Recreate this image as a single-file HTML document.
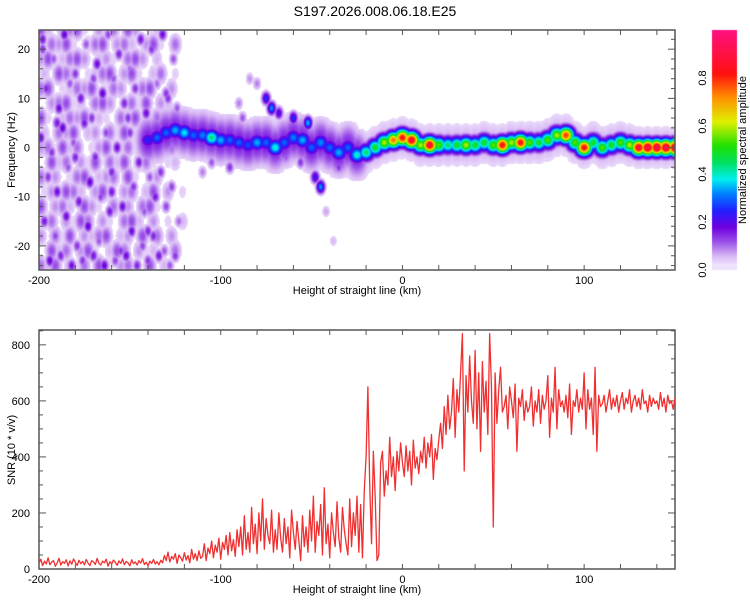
<!DOCTYPE html>
<html><head><meta charset="utf-8">
<style>
html,body{margin:0;padding:0;background:#fff;}
body{width:750px;height:600px;position:relative;overflow:hidden;font-family:"Liberation Sans",sans-serif;}
canvas{position:absolute;left:0;top:0;}
svg{position:absolute;left:0;top:0;}
</style></head>
<body>
<canvas id="spec" width="750" height="600"></canvas>
<svg id="svg" width="750" height="600"></svg>
<script>
// ---------- data ----------
const ridgeKm   = [-140,-135,-130,-125,-120,-115,-110,-105,-100,-95,-90,-85,-80,-75,-70,-65,-60,-55,-50,-45,-40,-35,-30,-25,-20,-15,-10,-5,0,5,10,15,20,25,30,35,40,45,50,55,60,65,70,75,80,85,90,95,100,105,110,115,120,125,130,135,140,145,150];
const ridgeHz   = [1.5,2,3,3.5,3,2.5,2.5,2,1.5,1.5,1,0.5,1,1,0,1,2,1.5,0,1,0,-1,0,-1.5,-1,0,1,1.5,2,1.5,0.5,0.5,0.5,0.5,0.5,0.5,0.5,1,0.5,0.5,1,1,1,1,1.5,2.5,2.5,1,0,1,0,0.5,1,0.5,0,0,0,0,0];
const ridgeAmp  = [0.25,0.3,0.3,0.35,0.38,0.3,0.32,0.45,0.35,0.3,0.3,0.28,0.35,0.3,0.4,0.3,0.32,0.35,0.3,0.33,0.3,0.35,0.3,0.4,0.45,0.5,0.6,0.75,0.85,0.9,0.6,0.9,0.55,0.45,0.5,0.6,0.5,0.5,0.55,0.85,0.6,0.85,0.55,0.5,0.55,0.6,0.8,0.55,0.85,0.5,0.55,0.5,0.55,0.6,0.9,0.95,0.95,0.95,0.95];
const blobKm  = [-75,-72,-68,-60,-52,-48,-45,-42,-38,-80,-84,-88,-56,-64,-95,-90,-105,-110,-60,-35,
 -198,-192,-186,-180,-174,-168,-162,-156,-150,-144,-138,-132,-126,
 -196,-189,-183,-177,-171,-165,-159,-153,-147,-141,-135,-129,-124,
 -199,-193,-187,-181,-175,-169,-163,-157,-151,-145,-139,-133,-127,
 -195,-190,-184,-178,-172,-166,-160,-154,-148,-142,-136,-130,-123,
 -197,-191,-185,-179,-173,-167,-161,-155,-149,-143,-137,-131,-125,
 -194,-188,-182,-176,-170,-164,-158,-152,-146,-140,-134,-128,
 -198,-190,-180,-170,-160,-150,-140,-130];
const blobHz  = [10,8,7,6,5,-6,-8,-13,-19,13,14,6,-3,-2,-4,9,-3,-5,3,-4,
 22,18,23,15,21,17,23,19,16,22,20,23,18,
 12,8,13,10,6,11,14,9,12,7,13,10,8,
 2,-1,4,1,5,-2,3,0,6,-3,-6,-5,-8,
 -6,-9,-4,-11,-7,-10,-5,-12,-8,-13,-10,-12,-15,
 -15,-18,-14,-20,-16,-19,-13,-21,-17,-20,-18,-21,-22,
 -23,-22,-24,-23,-22,-24,-23,-22,-24,-23,-22,-24,
 20,5,-2,14,-9,3,-17,11];
const blobAmp = [0.22,0.28,0.18,0.22,0.3,0.2,0.28,0.06,0.05,0.08,0.07,0.1,0.12,0.1,0.12,0.08,0.1,0.08,0.15,0.12,
 0.14,0.1,0.16,0.12,0.1,0.15,0.11,0.13,0.09,0.14,0.12,0.15,0.1,
 0.13,0.15,0.1,0.14,0.12,0.16,0.1,0.13,0.12,0.15,0.09,0.12,0.1,
 0.15,0.12,0.16,0.1,0.14,0.13,0.11,0.15,0.12,0.14,0.1,0.12,0.11,
 0.12,0.15,0.1,0.14,0.16,0.11,0.13,0.15,0.12,0.1,0.14,0.11,0.09,
 0.14,0.11,0.15,0.12,0.16,0.1,0.14,0.12,0.15,0.11,0.13,0.1,0.12,
 0.16,0.13,0.15,0.12,0.14,0.16,0.11,0.15,0.13,0.12,0.14,0.1,
 0.12,0.14,0.13,0.11,0.14,0.12,0.13,0.12];
// light noise field: rows every 3 Hz from -24, columns every 4 km from -200 (digit = amplitude level)
const noiseRows = [
 "53604250630452061300",
 "06350462036504230150",
 "40526043560340625040",
 "35042650420563041203",
 "60453064205340562010",
 "24065304620450360402",
 "53402560345062034100",
 "06350426053604520230",
 "45063502460352064050",
 "30546034052630450201",
 "62035460320546035010",
 "04562305640352604300",
 "56023546025403560140",
 "30654023560462035020",
 "46035640342056403100",
 "05462035604530462050",
 "63045620435064023010"];
const snrStartKm = -200;
const snrValues = [20,35,12,28,18,40,15,25,30,10,22,38,14,26,20,33,11,29,17,36,24,13,31,19,27,15,34,21,12,30,25,16,38,20,14,28,22,35,10,26,18,32,24,13,29,20,36,15,27,22,11,33,19,25,14,30,21,37,16,24,12,28,20,34,18,26,15,31,22,48,
30,60,25,45,35,55,20,50,40,28,58,32,48,22,70,35,55,30,65,38,
45,90,30,75,55,100,40,85,60,110,35,95,70,120,50,130,65,105,45,140,
80,150,50,190,70,130,60,220,90,160,55,200,100,250,70,180,120,90,210,60,
140,70,200,110,60,180,90,150,40,210,130,70,170,100,30,190,80,150,60,210,
100,260,60,170,120,230,50,290,90,160,40,200,130,80,240,110,60,220,140,90,
50,250,80,200,120,260,60,230,40,280,
400,650,300,90,420,260,30,50,380,420,
260,350,300,470,330,400,280,420,350,450,
380,330,440,350,420,300,460,360,400,340,
420,380,470,360,450,400,480,320,430,390,
460,520,430,580,480,620,500,560,680,470,
640,560,700,840,350,690,560,760,600,520,
780,500,700,420,740,560,670,480,840,650,
150,700,520,640,720,560,580,620,500,650,
600,540,660,420,610,580,640,530,600,560,
580,650,510,600,560,640,520,620,570,600,
690,470,610,560,720,500,640,580,600,560,
620,540,660,480,600,580,640,560,610,570,
700,500,640,570,610,480,720,420,620,580,
590,620,560,600,640,570,610,580,620,560,
600,630,570,610,590,640,560,600,620,580,
610,570,640,590,600,560,620,580,610,590,
600,570,630,580,610,560,620,590,600,570,610];
const xTicks = [-200,-100,0,100];
const fTicks = [-20,-10,0,10,20];
const snrTicks = [0,200,400,600,800];
const cbTicks = [0.0,0.2,0.4,0.6,0.8];

// ---------- layout ----------
const X0=39, X1=675, KM0=-200, KM1=150;
const T0=30, T1=270, HZ0=-24.9, HZ1=23.9;
const B0=330, B1=569, S0=0, S1=853;
const xs = k => X0 + (k-KM0)/(KM1-KM0)*(X1-X0);
const kx = x => KM0 + (x-X0)/(X1-X0)*(KM1-KM0);
const ys = h => T1 - (h-HZ0)/(HZ1-HZ0)*(T1-T0);
const hy = y => HZ0 + (T1-y)/(T1-T0)*(HZ1-HZ0);
const ysn = v => B1 - (v-S0)/(S1-S0)*(B1-B0);

const stops=[[0,[255,255,255]],[0.02,[240,230,252]],[0.06,[216,184,245]],[0.12,[154,80,232]],[0.18,[112,0,224]],[0.25,[32,32,255]],[0.32,[0,128,255]],[0.38,[0,240,240]],[0.45,[0,224,96]],[0.52,[32,224,0]],[0.62,[224,240,0]],[0.72,[255,144,0]],[0.82,[255,16,16]],[1.0,[255,16,128]]];
function cmap(v){
  if(v<=0) return stops[0][1];
  for(let i=1;i<stops.length;i++){
    if(v<=stops[i][0]){const a=stops[i-1],b=stops[i];const t=(v-a[0])/(b[0]-a[0]);
      return a[1].map((c,j)=>Math.round(c+(b[1][j]-c)*t));}
  }
  return stops[stops.length-1][1];
}

// light blobs from noise rows
const lk=[],lh=[],la=[];
noiseRows.forEach((row,r)=>{
  for(let c=0;c<row.length;c++){
    const d=+row[c]; if(!d) continue;
    lk.push(-199+c*4+(r%2?2:0)); lh.push(-24+r*3); la.push(d*0.014);
  }
});

// ---------- spectrogram ----------
const cv=document.getElementById('spec'),ctx=cv.getContext('2d');
const W=X1-X0,H=T1-T0;
const img=ctx.createImageData(W,H);
for(let py=0;py<H;py++){
  const h=hy(T0+py+0.5);
  for(let px=0;px<W;px++){
    const k=kx(X0+px+0.5);
    let v=0;
    for(let i=0;i<lk.length;i++){
      const dk=(k-lk[i])/2.4, dh=(h-lh[i])/1.5;
      const d=dk*dk+dh*dh; if(d>10) continue;
      v=Math.max(v,la[i]*Math.exp(-d/2)*1.5);
    }
    for(let i=0;i<ridgeKm.length;i++){
      const dk=(k-ridgeKm[i])/3.2, dh=(h-ridgeHz[i])/1.2;
      const d=dk*dk+dh*dh; if(d>20) continue;
      const a=ridgeAmp[i]*Math.exp(-d/2);
      const halo=(ridgeKm[i]<-20?0.17:0.08)*Math.exp(-(dk*dk/2+dh*dh/7)/2);
      v=Math.max(v,a,halo);
    }
    for(let i=0;i<blobKm.length;i++){
      const dk=(k-blobKm[i])/1.6, dh=(h-blobHz[i])/0.9;
      const d=dk*dk+dh*dh; if(d>12) continue;
      v=Math.max(v,blobAmp[i]*Math.exp(-d/2)*1.2);
    }
    const c = v<0.03?[255,255,255]:cmap(v);
    const o=(py*W+px)*4;
    img.data[o]=c[0];img.data[o+1]=c[1];img.data[o+2]=c[2];img.data[o+3]=255;
  }
}
ctx.putImageData(img,X0,T0);
// colorbar
for(let y=30;y<270;y++){
  const v=(270-y)/240;
  const c=v<0.02?[235,225,250]:cmap(v);
  ctx.fillStyle=`rgb(${c[0]},${c[1]},${c[2]})`;
  ctx.fillRect(712,y,25,1);
}

// ---------- svg ----------
const svg=document.getElementById('svg');
const NS='http://www.w3.org/2000/svg';
function el(tag,attrs,parent){const e=document.createElementNS(NS,tag);for(const a in attrs)e.setAttribute(a,attrs[a]);(parent||svg).appendChild(e);return e;}
function txt(s,attrs,parent){const e=el('text',attrs,parent);e.textContent=s;return e;}

const title=txt('S197.2026.008.06.18.E25',{x:375,y:16,'text-anchor':'middle','font-size':14,fill:'#000','font-family':'Liberation Sans, sans-serif'});



function axes(top,bot,name){
  const g=el('g',{});
  
  
  el('rect',{x:X0,y:top,width:X1-X0,height:bot-top,fill:'none',stroke:'#555','stroke-width':1.5},g);
  for(let k=-200;k<=150;k+=20){
    const x=xs(k);
    el('line',{x1:x,y1:top,x2:x,y2:top+5,stroke:'#555'},g);
    el('line',{x1:x,y1:bot,x2:x,y2:bot-5,stroke:'#555'},g);
  }
  xTicks.forEach(k=>{
    const t=txt(String(k),{x:xs(k),y:bot+14,'text-anchor':'middle','font-size':11,fill:'#000'},g);
    
    
  });
  const xl=txt('Height of straight line (km)',{x:357,y:bot+24,'text-anchor':'middle','font-size':11,fill:'#000'},g);
  
  
  return g;
}
const g1=axes(T0,T1,'spectrogram');
for(let h=-24;h<=22;h+=2){
  const y=ys(h);
  el('line',{x1:X0,y1:y,x2:X0+(h%10===0?7:4),y2:y,stroke:'#555'},g1);
  el('line',{x1:X1,y1:y,x2:X1-(h%10===0?7:4),y2:y,stroke:'#555'},g1);
}
fTicks.forEach(h=>{
  const t=txt(String(h),{x:30,y:ys(h)+4,'text-anchor':'end','font-size':11,fill:'#000'},g1);
  
  
});
const yl1=txt('Frequency (Hz)',{x:0,y:0,transform:`translate(15,150) rotate(-90)`,'text-anchor':'middle','font-size':11,fill:'#000'});



const g2=axes(B0,B1,'snr');
for(let v=0;v<=850;v+=50){
  const y=ysn(v);
  el('line',{x1:X0,y1:y,x2:X0+(v%200===0?7:4),y2:y,stroke:'#555'},g2);
  el('line',{x1:X1,y1:y,x2:X1-(v%200===0?7:4),y2:y,stroke:'#555'},g2);
}
snrTicks.forEach(v=>{
  const t=txt(String(v),{x:30,y:ysn(v)+4,'text-anchor':'end','font-size':11,fill:'#000'},g2);
  
  
});
const yl2=txt('SNR (10 * v/v)',{x:0,y:0,transform:`translate(15,450) rotate(-90)`,'text-anchor':'middle','font-size':11,fill:'#000'});



let d='';
snrValues.forEach((v,i)=>{const k=snrStartKm+i; if(k>KM1) return; d+=(i?'L':'M')+xs(k).toFixed(2)+','+ysn(v).toFixed(2);});
const line=el('path',{d:d,fill:'none',stroke:'#f03030','stroke-width':1.3,'stroke-linejoin':'round'});



// colorbar
const cb=el('g',{});


cbTicks.forEach(v=>{
  const y=270-v*240;
  const t=txt(v.toFixed(1),{x:0,y:0,transform:`translate(706,${y}) rotate(-90)`,'text-anchor':'middle','font-size':11,fill:'#000'},cb);
  
  
});
const cbt=txt('Normalized spectral amplitude',{x:0,y:0,transform:`translate(746,150) rotate(-90)`,'text-anchor':'middle','font-size':11,fill:'#000'},cb);


</script>
</body></html>
